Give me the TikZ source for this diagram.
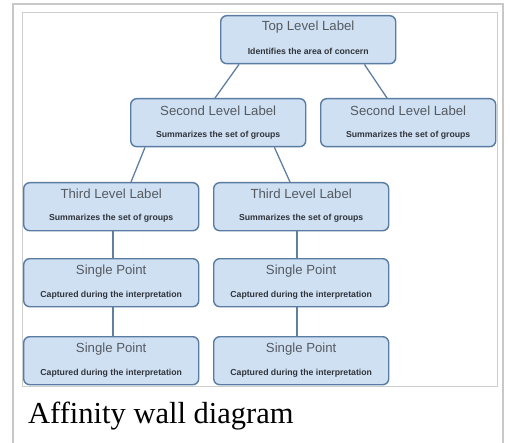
\documentclass[tikz,border=0pt]{standalone}
\usepackage{fontspec}
\setmainfont{Liberation Serif}
\newfontfamily\boxfont{Liberation Sans}
\usetikzlibrary{calc}
\definecolor{boxfill}{HTML}{CFE0F3}
\definecolor{boxline}{HTML}{5A7BA2}
\definecolor{linkcol}{HTML}{60809F}
\definecolor{titlecol}{HTML}{555A60}
\definecolor{subcol}{HTML}{30343A}
\definecolor{framecol}{HTML}{C8C8C8}
\tikzset{
  card/.style={rectangle, rounded corners=6pt, draw=boxline, fill=boxfill, line width=1.4pt,
    minimum width=175pt, minimum height=48pt, anchor=north west, inner sep=0pt},
  cardtitle/.style={font=\boxfont\fontsize{13.2}{15}\selectfont, text=titlecol, inner sep=0pt},
  cardsub/.style={font=\boxfont\bfseries\fontsize{8.7}{10}\selectfont, text=subcol, inner sep=0pt},
  link/.style={draw=linkcol, line width=1.3pt},
}
\begin{document}
\begin{tikzpicture}[x=1pt,y=-1pt]
\useasboundingbox (0,0) rectangle (510,443);
\fill[white] (0,0) rectangle (510,443);
% frames
\draw[framecol, line width=1.5pt] (13,460) -- (13,4) -- (503,4) -- (503,460);
\draw[framecol!90, line width=0.9pt] (22,12) rectangle (497,386);
% boxes
\node[card] (top) at (220,15) {};
\node[card] (secL) at (130,98) {};
\node[card] (secR) at (320,98) {};
\node[card] (thrL) at (23,182) {};
\node[card] (thrR) at (213,182) {};
\node[card] (snaL) at (23,258) {};
\node[card] (snaR) at (213,258) {};
\node[card] (snbL) at (23,336) {};
\node[card] (snbR) at (213,336) {};
% texts
\node[cardtitle] (topT) at ($(top.north)+(0,12)$) {Top Level Label};
\node[cardsub] (topS) at ($(top.north)+(0,36)$) {Identifies the area of concern};
\node[cardtitle] (secLT) at ($(secL.north)+(0,13)$) {Second Level Label};
\node[cardsub] (secLS) at ($(secL.north)+(0,37)$) {Summarizes the set of groups};
\node[cardtitle] (secRT) at ($(secR.north)+(0,13)$) {Second Level Label};
\node[cardsub] (secRS) at ($(secR.north)+(0,37)$) {Summarizes the set of groups};
\node[cardtitle] (thrLT) at ($(thrL.north)+(0,12)$) {Third Level Label};
\node[cardsub] (thrLS) at ($(thrL.north)+(0,36)$) {Summarizes the set of groups};
\node[cardtitle] (thrRT) at ($(thrR.north)+(0,12)$) {Third Level Label};
\node[cardsub] (thrRS) at ($(thrR.north)+(0,36)$) {Summarizes the set of groups};
\node[cardtitle] (snaLT) at ($(snaL.north)+(0,13)$) {Single Point};
\node[cardsub] (snaLS) at ($(snaL.north)+(0,37)$) {Captured during the interpretation};
\node[cardtitle] (snaRT) at ($(snaR.north)+(0,13)$) {Single Point};
\node[cardsub] (snaRS) at ($(snaR.north)+(0,37)$) {Captured during the interpretation};
\node[cardtitle] (snbLT) at ($(snbL.north)+(0,13)$) {Single Point};
\node[cardsub] (snbLS) at ($(snbL.north)+(0,37)$) {Captured during the interpretation};
\node[cardtitle] (snbRT) at ($(snbR.north)+(0,13)$) {Single Point};
\node[cardsub] (snbRS) at ($(snbR.north)+(0,37)$) {Captured during the interpretation};
% connectors
\draw[link] ($(top.south west)+(19,0)$) -- ($(secL.north west)+(85,0)$);
\draw[link] ($(top.south east)+(-32,0)$) -- ($(secR.north west)+(67,0)$);
\draw[link] ($(secL.south west)+(15,0)$) -- ($(thrL.north west)+(108,0)$);
\draw[link] ($(secL.south east)+(-32,0)$) -- ($(thrR.north west)+(77,0)$);
\draw[link] ($(thrL.south west)+(90,0)$) -- ($(snaL.north west)+(90,0)$);
\draw[link] ($(thrR.south west)+(84,0)$) -- ($(snaR.north west)+(84,0)$);
\draw[link] ($(snaL.south west)+(90,0)$) -- ($(snbL.north west)+(90,0)$);
\draw[link] ($(snaR.south west)+(84,0)$) -- ($(snbR.north west)+(84,0)$);
% caption
\node[anchor=base west, inner sep=0pt, font=\fontsize{30.5}{36}\selectfont] (cap) at (28,423) {Affinity wall diagram};
\end{tikzpicture}
\end{document}
